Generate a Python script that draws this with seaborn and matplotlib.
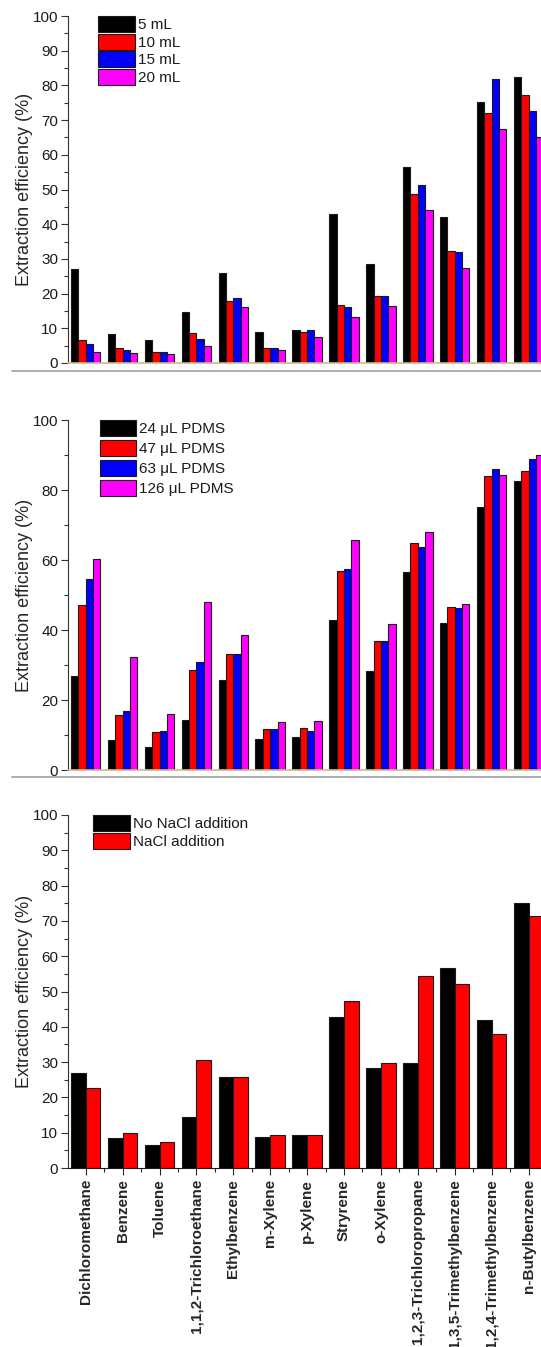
import matplotlib
matplotlib.use("Agg")
import matplotlib.pyplot as plt
from matplotlib.lines import Line2D
from matplotlib.ticker import MultipleLocator
import numpy as np
import pandas as pd
import seaborn as sns

compounds = ["Dichloromethane", "Benzene", "Toluene", "1,1,2-Trichloroethane",
             "Ethylbenzene", "m-Xylene", "p-Xylene", "Stryrene", "o-Xylene",
             "1,2,3-Trichloropropane", "1,3,5-Trimethylbenzene",
             "1,2,4-Trimethylbenzene", "n-Butylbenzene"]

# panel 1 - sample volume
volume_labels = ["5 mL", "10 mL", "15 mL", "20 mL"]
vol_5ml = [27.0, 8.4, 6.6, 14.6, 25.8, 8.8, 9.4, 42.8, 28.4, 56.6, 42.0, 75.2, 82.4]
vol_10ml = [6.6, 4.2, 3.3, 8.7, 17.9, 4.3, 8.9, 16.8, 19.3, 48.7, 32.2, 72.0, 77.3]
vol_15ml = [5.5, 3.8, 3.3, 6.8, 18.7, 4.3, 9.5, 16.0, 19.3, 51.2, 32.0, 81.9, 72.7]
vol_20ml = [3.2, 2.8, 2.6, 5.0, 16.0, 3.8, 7.4, 13.4, 16.4, 44.1, 27.5, 67.3, 65.1]

# panel 2 - PDMS volume
pdms_labels = ["24 \u03bcL PDMS", "47 \u03bcL PDMS", "63 \u03bcL PDMS", "126 \u03bcL PDMS"]
pdms_24 = [27.0, 8.6, 6.7, 14.4, 25.7, 8.8, 9.4, 42.9, 28.4, 56.7, 41.9, 75.2, 82.5]
pdms_47 = [47.2, 15.7, 11.0, 28.6, 33.2, 11.6, 12.1, 57.0, 36.9, 64.9, 46.5, 84.1, 85.3]
pdms_63 = [54.6, 17.0, 11.2, 31.0, 33.1, 11.6, 11.2, 57.3, 37.0, 63.6, 46.4, 85.9, 88.9]
pdms_126 = [60.2, 32.2, 15.9, 48.1, 38.7, 13.6, 13.9, 65.7, 41.8, 67.9, 47.3, 84.3, 90.0]

# panel 3 - salt
salt_labels = ["No NaCl addition", "NaCl addition"]
no_nacl = [27.0, 8.4, 6.6, 14.5, 25.8, 8.8, 9.3, 42.7, 28.3, 29.8, 56.6, 42.0, 75.1]
nacl = [22.7, 9.9, 7.5, 30.5, 25.8, 9.3, 9.3, 47.4, 29.8, 54.3, 52.1, 37.9, 71.3]

colors4 = ["#000000", "#ff0000", "#0000ff", "#ff00ff"]


def long_df(labels, series):
    rows = []
    for lab, vals in zip(labels, series):
        for c, v in zip(compounds, vals):
            rows.append({"compound": c, "group": lab, "value": v})
    return pd.DataFrame(rows)


sns.set_style("ticks")
plt.rcParams["font.family"] = ["Liberation Sans", "DejaVu Sans"]
plt.rcParams["text.color"] = "#1a1a1a"

W, H = 541, 1347
fig = plt.figure(figsize=(W / 100, H / 100), dpi=100)

# axes boxes in pixels: (left, top, bottom); width reaches past right edge (clipped)
boxes = [(68, 16, 363), (68, 420, 770), (68, 815, 1168)]
ax_w = 13 * 36.9


def make_ax(left, top, bottom):
    return fig.add_axes([left / W, 1 - bottom / H, ax_w / W, (bottom - top) / H])


panels = [
    (long_df(volume_labels, [vol_5ml, vol_10ml, vol_15ml, vol_20ml]), volume_labels, colors4, 10, 5),
    (long_df(pdms_labels, [pdms_24, pdms_47, pdms_63, pdms_126]), pdms_labels, colors4, 20, 10),
    (long_df(salt_labels, [no_nacl, nacl]), salt_labels, colors4[:2], 10, 5),
]
leg_x = [0.0625, 0.066, 0.052]
leg_spacing = [0.09, 0.24, 0.12]

for i, ((df, labs, cols, major, minor), box) in enumerate(zip(panels, boxes)):
    ax = make_ax(*box)
    sns.barplot(data=df, x="compound", y="value", hue="group", order=compounds,
                hue_order=labs, palette=dict(zip(labs, cols)), width=0.8, gap=0,
                edgecolor="#1a1a1a", linewidth=0.8, saturation=1, errorbar=None, ax=ax)
    ax.set_xlim(-0.48, 12.52)
    ax.set_ylim(0, 100)
    ax.yaxis.set_major_locator(MultipleLocator(major))
    ax.yaxis.set_minor_locator(MultipleLocator(minor))
    ax.tick_params(axis="y", which="major", direction="out", length=5, width=0.8,
                   labelsize=11, pad=2, colors="#333333", labelcolor="#1a1a1a")
    ax.tick_params(axis="y", which="minor", direction="out", length=3, width=0.8, colors="#333333")
    ax.set_ylabel("Extraction efficiency (%)", fontsize=13)
    ax.yaxis.set_label_coords(-0.073, 0.5)
    ax.set_xlabel("")
    sns.despine(ax=ax)
    ax.spines["left"].set_color("#333333")
    ax.spines["left"].set_linewidth(0.8)
    if i < 2:
        ax.set_xticks([])
        ax.spines["bottom"].set_color("#cdb98a")
        ax.spines["bottom"].set_linewidth(1.2)
    else:
        ax.set_xticks(range(len(compounds)))
        ax.set_xticklabels(compounds, rotation=90, fontsize=11, fontweight="bold")
        ax.set_xticks(np.arange(len(compounds)) + 0.5, minor=True)
        ax.tick_params(axis="x", which="major", direction="out", length=5, width=0.8, pad=3)
        ax.tick_params(axis="x", which="minor", direction="out", length=3, width=0.8)
        ax.spines["bottom"].set_color("#1a1a1a")
        ax.spines["bottom"].set_linewidth(0.8)
    handles, labels = ax.get_legend_handles_labels()
    ax.legend(handles, labels, loc="upper left", bbox_to_anchor=(leg_x[i], 1.0),
              frameon=False, fontsize=11, handlelength=2.4, handleheight=1.25,
              handletextpad=0.2, labelspacing=leg_spacing[i], borderpad=0,
              borderaxespad=0)

# grey separators between the stacked figures
for y in (371, 777):
    fig.add_artist(Line2D([12 / W, 1], [1 - y / H, 1 - y / H], transform=fig.transFigure,
                          color="#a0a0a0", lw=1.2))

fig.savefig("out.png", dpi=100)
